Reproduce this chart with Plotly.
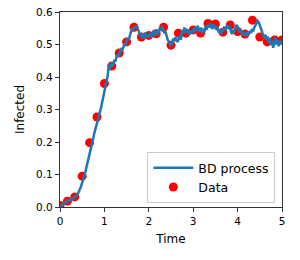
import plotly.graph_objects as go

# Data points (observations)
data_t = [i / 6 for i in range(31)]
data_y = [0.005, 0.018, 0.031, 0.095, 0.198, 0.277, 0.38, 0.434, 0.474, 0.508,
          0.553, 0.523, 0.528, 0.533, 0.553, 0.498, 0.535, 0.535, 0.545, 0.535,
          0.565, 0.563, 0.538, 0.56, 0.54, 0.532, 0.575, 0.523, 0.508, 0.514, 0.514]

# Birth-death process trajectory
bd_t = [i * 0.025 for i in range(201)]
bd_y = [0.000, 0.003, 0.006, 0.010, 0.012, 0.015, 0.018, 0.020, 0.019, 0.022,
        0.024, 0.023, 0.026, 0.028, 0.031, 0.034, 0.040, 0.048, 0.055, 0.064,
        0.075, 0.085, 0.098, 0.110, 0.125, 0.138, 0.152, 0.168, 0.182, 0.198,
        0.212, 0.228, 0.240, 0.255, 0.265, 0.278, 0.292, 0.305, 0.322, 0.340,
        0.360, 0.375, 0.392, 0.405, 0.438, 0.425, 0.445, 0.432, 0.440, 0.452,
        0.448, 0.465, 0.470, 0.462, 0.478, 0.485, 0.480, 0.495, 0.502, 0.498,
        0.510, 0.520, 0.515, 0.532, 0.540, 0.548, 0.545, 0.555, 0.550, 0.558,
        0.548, 0.540, 0.530, 0.522, 0.535, 0.518, 0.528, 0.536, 0.522, 0.530,
        0.525, 0.536, 0.520, 0.530, 0.542, 0.528, 0.538, 0.545, 0.530, 0.540,
        0.550, 0.542, 0.556, 0.545, 0.535, 0.540, 0.525, 0.515, 0.510, 0.500,
        0.495, 0.505, 0.518, 0.510, 0.522, 0.512, 0.508, 0.518, 0.528, 0.515,
        0.545, 0.535, 0.552, 0.538, 0.548, 0.535, 0.545, 0.530, 0.542, 0.535,
        0.548, 0.538, 0.552, 0.542, 0.558, 0.545, 0.540, 0.552, 0.535, 0.548,
        0.538, 0.555, 0.545, 0.560, 0.552, 0.565, 0.555, 0.548, 0.562, 0.550,
        0.558, 0.545, 0.552, 0.538, 0.545, 0.530, 0.548, 0.540, 0.555, 0.545,
        0.552, 0.560, 0.548, 0.555, 0.540, 0.532, 0.545, 0.538, 0.552, 0.560,
        0.555, 0.548, 0.538, 0.545, 0.530, 0.540, 0.528, 0.535, 0.525, 0.538,
        0.530, 0.542, 0.535, 0.548, 0.540, 0.552, 0.558, 0.565, 0.572, 0.568,
        0.560, 0.548, 0.540, 0.528, 0.520, 0.530, 0.515, 0.525, 0.505, 0.520,
        0.498, 0.512, 0.490, 0.505, 0.520, 0.500, 0.515, 0.495, 0.510, 0.505,
        0.512]

fig = go.Figure()
fig.add_trace(go.Scatter(x=data_t, y=data_y, mode="markers", name="Data",
                         marker=dict(color="#ff0000", size=9, line=dict(width=0)),
                         legendrank=2))
fig.add_trace(go.Scatter(x=bd_t, y=bd_y, mode="lines", name="BD process",
                         line=dict(color="#1f77b4", width=2.5),
                         legendrank=1))

axis_common = dict(showline=True, linecolor="#333333", linewidth=1.3, mirror=True,
                   ticks="outside", ticklen=4, tickwidth=1, tickcolor="#333333",
                   showgrid=False, zeroline=False, automargin=False,
                   tickfont=dict(family="DejaVu Sans", size=10.5, color="#000000"))

fig.update_layout(
    width=300, height=260,
    margin=dict(l=60, r=18, t=12, b=53),
    paper_bgcolor="white", plot_bgcolor="white",
    font=dict(family="DejaVu Sans", color="#000000"),
    showlegend=True,
    legend=dict(x=0.97, y=0.02, xanchor="right", yanchor="bottom",
                bordercolor="#cccccc", borderwidth=1, bgcolor="rgba(255,255,255,0.8)",
                font=dict(family="DejaVu Sans", size=12.5), itemwidth=40,
                tracegroupgap=0),
    xaxis=dict(range=[0, 5], dtick=1, tickformat="d",
               title=dict(text="Time", font=dict(size=12), standoff=8), **axis_common),
    yaxis=dict(range=[0, 0.6], dtick=0.1, tickformat=".1f",
               title=dict(text="Infected", font=dict(size=12), standoff=8), **axis_common),
)

fig.write_html("out.html",
               config={"displayModeBar": False},
               post_script="document.body.style.margin='0px';document.body.style.overflow='hidden';")
